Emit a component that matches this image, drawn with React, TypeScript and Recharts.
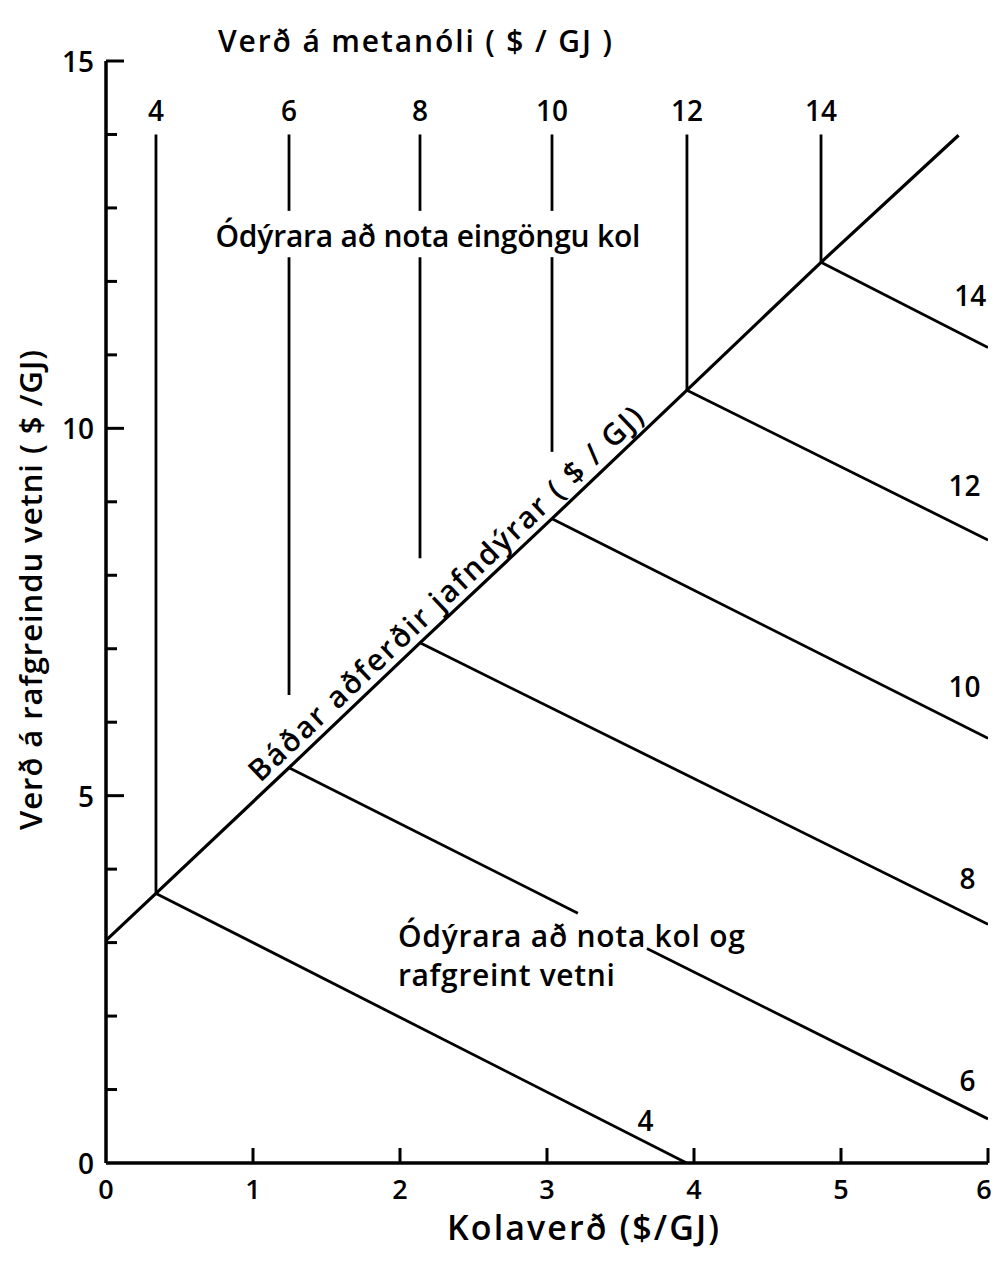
import React from 'react';
import { ComposedChart, Line, Scatter, XAxis, YAxis } from 'recharts';

const FONT = '"Open Sans", "Noto Sans", "DejaVu Sans", sans-serif';

// Axis ticks
const xTicks = [0, 1, 2, 3, 4, 5, 6];
const yTicks = [0, 1, 2, 3, 4, 5, 6, 7, 8, 9, 10, 11, 12, 13, 14, 15];

// Methanol price curves ($/GJ)
const methanolPrices = [4, 6, 8, 10, 12, 14];
// Corner points on the break-even line (coal price, hydrogen price)
const cornerCoal = [0.34, 1.245, 2.136, 3.034, 3.952, 4.864];
const cornerHydrogen = [3.67, 5.38, 7.08, 8.77, 10.52, 12.26];
// Vertical segments (coal only region)
const verticalTops = [14, 14, 14, 14, 14, 14];
const textGapTop = [null, 12.96, 12.96, 12.96, null, null];
const textGapBottom = [null, 12.33, 12.33, 12.33, null, null];
const verticalBottoms = [3.67, 6.37, 8.23, 9.68, 10.52, 12.26];
// Sloped segments (coal + electrolytic hydrogen region)
const slopeEndCoal = [3.95, 6, 6, 6, 6, 6];
const slopeEndHydrogen = [0, 0.6, 3.25, 5.78, 8.48, 11.1];
const slopeGapFrom = [null, { x: 3.21, y: 3.4 }, null, null, null, null];
const slopeGapTo = [null, { x: 3.68, y: 2.92 }, null, null, null, null];
// Break-even line end points
const diagonalStart = { x: 0, y: 3.03 };
const diagonalEnd = { x: 5.8, y: 13.99 };

// Curve label positions
const topLabelY = [14.33, 14.33, 14.33, 14.33, 14.33, 14.33];
const sideLabelCoal = [3.67, 5.86, 5.86, 5.84, 5.84, 5.88];
const sideLabelHydrogen = [0.585, 1.13, 3.88, 6.49, 9.23, 11.81];

// Region texts
const regionTexts = [
  'Ódýrara að nota eingöngu kol',
  'Báðar aðferðir jafndýrar ( $ / GJ)',
  'Ódýrara að nota kol og',
  'rafgreint  vetni',
];
const regionCoal = [2.19, 2.306, 1.986, 1.986];
const regionHydrogen = [12.63, 7.76, 3.1, 2.56];

type Pt = { x: number; y: number };
const segments: Pt[][] = [];
segments.push([
  diagonalStart,
  ...cornerCoal.map((x, i) => ({ x, y: cornerHydrogen[i] })),
  diagonalEnd,
]);
methanolPrices.forEach((_, i) => {
  const x = cornerCoal[i];
  const gt = textGapTop[i];
  const gb = textGapBottom[i];
  if (gt != null && gb != null) {
    segments.push([{ x, y: verticalTops[i] }, { x, y: gt }]);
    segments.push([{ x, y: gb }, { x, y: verticalBottoms[i] }]);
  } else {
    segments.push([{ x, y: verticalTops[i] }, { x, y: verticalBottoms[i] }]);
  }
  const corner = { x, y: cornerHydrogen[i] };
  const end = { x: slopeEndCoal[i], y: slopeEndHydrogen[i] };
  const gf = slopeGapFrom[i];
  const gto = slopeGapTo[i];
  if (gf && gto) {
    segments.push([corner, gf]);
    segments.push([gto, end]);
  } else {
    segments.push([corner, end]);
  }
});

const topLabels = methanolPrices.map((p, i) => ({ x: cornerCoal[i], y: topLabelY[i], text: String(p) }));
const sideLabels = methanolPrices.map((p, i) => ({ x: sideLabelCoal[i], y: sideLabelHydrogen[i], text: String(p) }));
const regionData = regionTexts.map((t, i) => ({ x: regionCoal[i], y: regionHydrogen[i], text: t, idx: i }));

const regionStyle = [
  { anchor: 'middle', len: 425, angle: 0 },
  { anchor: 'middle', len: 530, angle: -43.4 },
  { anchor: 'start', len: 347, angle: 0 },
  { anchor: 'start', len: 217, angle: 0 },
];

const NumLabel = (props: any) => {
  const { cx, cy, payload } = props;
  return (
    <text x={cx} y={cy} textAnchor="middle" dominantBaseline="central" fontFamily={FONT} fontSize={28} fontWeight={600} fill="#000">
      {payload.text}
    </text>
  );
};

const RegionLabel = (props: any) => {
  const { cx, cy, payload } = props;
  const s = regionStyle[payload.idx];
  return (
    <text
      x={cx}
      y={cy}
      textAnchor={s.anchor}
      dominantBaseline="central"
      fontFamily={FONT}
      fontSize={30}
      fontWeight={600}
      fill="#000"
      textLength={s.len}
      lengthAdjust="spacing"
      transform={s.angle ? `rotate(${s.angle} ${cx} ${cy})` : undefined}
    >
      {payload.text}
    </text>
  );
};

const XTick = (props: any) => {
  const { x, y, payload } = props;
  const last = payload.value === 6;
  return (
    <g>
      {payload.value !== 0 && <line x1={x} x2={x} y1={y} y2={y - 15} stroke="#000" strokeWidth={3} />}
      <text x={last ? x - 4 : x} y={y + 25} textAnchor="middle" dominantBaseline="central" fontFamily={FONT} fontSize={27} fontWeight={600} fill="#000">
        {payload.value}
      </text>
    </g>
  );
};

const YTick = (props: any) => {
  const { x, y, payload } = props;
  const major = payload.value % 5 === 0;
  return (
    <g>
      {payload.value !== 0 && (
        <line x1={x} x2={x + (major ? 18 : 11)} y1={y} y2={y} stroke="#000" strokeWidth={3} />
      )}
      {major && (
        <text x={x - 12} y={y} textAnchor="end" dominantBaseline="central" fontFamily={FONT} fontSize={28} fontWeight={600} fill="#000">
          {payload.value}
        </text>
      )}
    </g>
  );
};

const XLabel = (props: any) => {
  const vb = props.viewBox || { x: 98, y: 1155 };
  return (
    <text x={vb.x + 477} y={vb.y + 64} textAnchor="middle" dominantBaseline="central" fontFamily={FONT} fontSize={34} fontWeight={600} fill="#000" textLength={272} lengthAdjust="spacing">
      Kolaverð ($/GJ)
    </text>
  );
};

const YLabel = (props: any) => {
  const vb = props.viewBox || { x: 0, y: 53 };
  const cx = vb.x + 22;
  const cy = vb.y + 529;
  return (
    <text x={cx} y={cy} textAnchor="middle" dominantBaseline="central" fontFamily={FONT} fontSize={31} fontWeight={600} fill="#000" transform={`rotate(-90 ${cx} ${cy})`} textLength={480} lengthAdjust="spacing">
      Verð á rafgreindu vetni ( $ /GJ)
    </text>
  );
};

export default function App() {
  return (
    <div style={{ position: 'relative', width: 983, height: 1240, background: '#fff' }}>
      <style>{'.recharts-surface { overflow: visible; } .recharts-wrapper { overflow: visible; }'}</style>
      <svg width={983} height={70} style={{ position: 'absolute', left: 0, top: 0 }}>
        <text x={407} y={32} textAnchor="middle" dominantBaseline="central" fontFamily={FONT} fontSize={30} fontWeight={600} fill="#000" textLength={394} lengthAdjust="spacing">
          Verð á metanóli ( $ / GJ )
        </text>
      </svg>
      <ComposedChart width={983} height={1240} margin={{ top: 53, right: 3, left: 0, bottom: 0 }}>
        <XAxis
          dataKey="x"
          type="number"
          domain={[0, 6]}
          ticks={xTicks}
          interval={0}
          allowDataOverflow
          height={85}
          tickSize={0}
          tickMargin={0}
          tickLine={false}
          axisLine={{ stroke: '#000', strokeWidth: 3.5 }}
          tick={<XTick />}
          label={{ content: <XLabel /> }}
        />
        <YAxis
          dataKey="y"
          type="number"
          domain={[0, 15]}
          ticks={yTicks}
          interval={0}
          allowDataOverflow
          width={98}
          tickSize={0}
          tickMargin={0}
          tickLine={false}
          axisLine={{ stroke: '#000', strokeWidth: 3.5 }}
          tick={<YTick />}
          label={{ content: <YLabel /> }}
        />
        {segments.map((seg, i) => (
          <Line
            key={'seg' + i}
            data={seg}
            dataKey="y"
            type="linear"
            stroke="#000"
            strokeWidth={i === 0 ? 3.2 : 2.8}
            dot={false}
            activeDot={false}
            isAnimationActive={false}
            legendType="none"
          />
        ))}
        <Scatter data={topLabels} dataKey="y" shape={<NumLabel />} isAnimationActive={false} />
        <Scatter data={sideLabels} dataKey="y" shape={<NumLabel />} isAnimationActive={false} />
        <Scatter data={regionData} dataKey="y" shape={<RegionLabel />} isAnimationActive={false} />
      </ComposedChart>
    </div>
  );
}
